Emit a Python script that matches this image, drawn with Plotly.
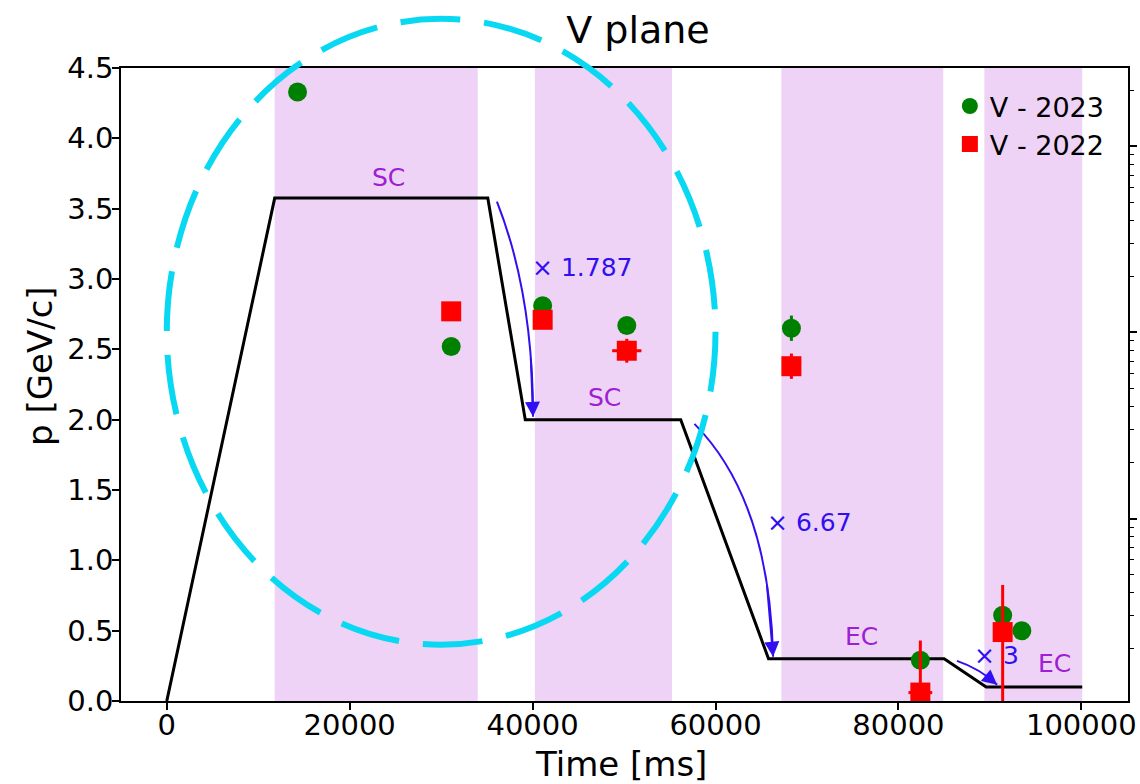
import plotly.graph_objects as go

# ---------------- data ----------------
t_2023 = [14300, 31100, 41100, 50300, 68300, 82400, 91400, 93500]
p_2023 = [4.33, 2.52, 2.81, 2.67, 2.65, 0.29, 0.61, 0.50]
perr_2023 = [0.03, 0.03, 0.03, 0.03, 0.09, 0.05, 0.03, 0.03]

t_2022 = [31100, 41100, 50300, 68300, 82400, 91400]
p_2022 = [2.77, 2.71, 2.49, 2.38, 0.06, 0.49]
perr_up_2022 = [0.03, 0.03, 0.085, 0.09, 0.37, 0.335]
perr_dn_2022 = [0.03, 0.03, 0.085, 0.09, 0.37, 0.55]
terr_2022 = [300, 300, 1600, 300, 1300, 300]

# machine cycle (momentum vs time)
cycle_t = [0, 11800, 35100, 39200, 56200, 65800, 85000, 89600, 100100]
cycle_p = [0, 3.575, 3.575, 2.0, 2.0, 0.3, 0.3, 0.1, 0.1]

# cooling windows
band_start = [11800, 40250, 67200, 89400]
band_end = [34000, 55250, 84900, 100100]

# labels
label_text = ["SC", "SC", "EC", "EC"]
label_t = [24200, 47900, 76000, 97050]
label_p = [3.72, 2.16, 0.46, 0.27]

ratio_text = ["× 1.787", "× 6.67", "× 3"]
ratio_t = [45400, 70300, 90700]
ratio_p = [3.08, 1.27, 0.32]

# curved arrows: start, control, end
arr_start = [(36100, 3.55), (57700, 1.97), (86400, 0.285)]
arr_ctrl = [(40050, 2.90), (65900, 1.43), (88900, 0.23)]
arr_end = [(40050, 2.02), (66300, 0.315), (90800, 0.115)]

x_range = [-5005, 105105]
y_range = [0, 4.5]

BLUE = "#3010f0"
PURPLE = "#9d20d2"
BAND = "#eed3f6"
CYAN = "#08d8f2"
FONT = "DejaVu Sans"

# plot area in pixels (for placing axis titles)
PL, PR, PT, PB = 121, 1128, 68, 701


def paper_x(px):
    return (px - PL) / (PR - PL)


def paper_y(py):
    return (PB - py) / (PB - PT)


fig = go.Figure()

fig.add_trace(go.Scatter(
    x=cycle_t, y=cycle_p, mode="lines", line=dict(color="black", width=3),
    showlegend=False, hoverinfo="skip"))

fig.add_trace(go.Scatter(
    x=t_2023, y=p_2023, mode="markers", name="V - 2023",
    marker=dict(color="green", size=19, symbol="circle"),
    error_y=dict(type="data", array=perr_2023, color="green", thickness=3, width=0)))

fig.add_trace(go.Scatter(
    x=t_2022, y=p_2022, mode="markers", name="V - 2022",
    marker=dict(color="red", size=20, symbol="square"),
    error_y=dict(type="data", symmetric=False, array=perr_up_2022, arrayminus=perr_dn_2022,
                 color="red", thickness=3, width=0),
    error_x=dict(type="data", array=terr_2022, color="red", thickness=3, width=0)))

# invisible trace to anchor the secondary (log) axis
fig.add_trace(go.Scatter(x=[50000], y=[1], yaxis="y2", mode="markers",
                         marker=dict(opacity=0), showlegend=False, hoverinfo="skip"))

shapes = []
for s, e in zip(band_start, band_end):
    shapes.append(dict(type="rect", xref="x", yref="paper", x0=s, x1=e, y0=0, y1=1,
                       fillcolor=BAND, line=dict(width=0), layer="below"))


def bez(p0, c, p1, t):
    return ((1 - t) ** 2 * p0[0] + 2 * (1 - t) * t * c[0] + t ** 2 * p1[0],
            (1 - t) ** 2 * p0[1] + 2 * (1 - t) * t * c[1] + t ** 2 * p1[1])


annotations = []
for s, c, e in zip(arr_start, arr_ctrl, arr_end):
    shapes.append(dict(type="path", xref="x", yref="y",
                       path=f"M {s[0]},{s[1]} Q {c[0]},{c[1]} {e[0]},{e[1]}",
                       line=dict(color=BLUE, width=2)))
    tail = bez(s, c, e, 0.75)
    annotations.append(dict(x=e[0], y=e[1], ax=tail[0], ay=tail[1], xref="x", yref="y",
                            axref="x", ayref="y", showarrow=True, arrowhead=2,
                            arrowsize=1.5, arrowwidth=2, arrowcolor=BLUE, text=""))

# dashed ellipse (in paper coordinates derived from data)
ell_t = [0, 60000]
ell_p = [0.40, 4.85]
px = [(v - x_range[0]) / (x_range[1] - x_range[0]) for v in ell_t]
py = [(v - y_range[0]) / (y_range[1] - y_range[0]) for v in ell_p]
shapes.append(dict(type="circle", xref="paper", yref="paper", x0=px[0], x1=px[1],
                   y0=py[0], y1=py[1], line=dict(color=CYAN, width=6, dash="60px,24px"),
                   layer="above"))

for txt, x, y in zip(label_text, label_t, label_p):
    annotations.append(dict(x=x, y=y, xref="x", yref="y", text=txt, showarrow=False,
                            font=dict(family=FONT, size=25, color=PURPLE)))
for txt, x, y in zip(ratio_text, ratio_t, ratio_p):
    annotations.append(dict(x=x, y=y, xref="x", yref="y", text=txt, showarrow=False,
                            font=dict(family=FONT, size=25, color=BLUE)))

# axis titles
annotations.append(dict(x=paper_x(621), y=paper_y(764), xref="paper", yref="paper",
                        xanchor="center", yanchor="middle",
                        text="Time [ms]", showarrow=False,
                        font=dict(family=FONT, size=34, color="black")))
annotations.append(dict(x=paper_x(40), y=paper_y(366), xref="paper", yref="paper",
                        xanchor="center", yanchor="middle",
                        text="p [GeV/c]", showarrow=False, textangle=-90,
                        font=dict(family=FONT, size=34, color="black")))

fig.update_layout(
    width=1140, height=784,
    margin=dict(l=PL, r=1140 - PR, t=PT, b=784 - PB, autoexpand=False),
    paper_bgcolor="white", plot_bgcolor="white",
    title=dict(text="V plane", x=638 / 1140, xref="container", xanchor="center",
               y=1 - 30 / 784, yref="container", yanchor="middle",
               font=dict(family=FONT, size=38, color="black")),
    xaxis=dict(range=x_range, dtick=20000, tick0=0, tickformat="d",
               showline=True, linecolor="black", linewidth=1.5, mirror=True,
               ticks="outside", ticklen=7, tickwidth=1.5, tickcolor="black",
               showgrid=False, zeroline=False, automargin=False,
               ticklabelstandoff=-10,
               tickfont=dict(family=FONT, size=29, color="black")),
    yaxis=dict(range=y_range, dtick=0.5, tick0=0, tickformat=".1f",
               showline=True, linecolor="black", linewidth=1.5,
               ticks="outside", ticklen=7, tickwidth=1.5, tickcolor="black",
               showgrid=False, zeroline=False, automargin=False,
               ticklabelstandoff=-7,
               tickfont=dict(family=FONT, size=29, color="black")),
    yaxis2=dict(overlaying="y", side="right", type="log", range=[-0.98, 2.42],
                showline=True, linecolor="black", linewidth=1.5,
                ticks="outside", ticklen=7, tickwidth=1.5, tickcolor="black",
                dtick=1, showticklabels=False, showgrid=False, zeroline=False,
                automargin=False,
                minor=dict(ticks="outside", ticklen=4, tickwidth=1.2,
                           tickcolor="black", dtick="D1", showgrid=False)),
    legend=dict(x=0.982, y=0.978, xanchor="right", yanchor="top",
                bgcolor="rgba(0,0,0,0)", borderwidth=0, itemsizing="trace",
                font=dict(family=FONT, size=27, color="black")),
    shapes=shapes,
    annotations=annotations,
)

fig.write_html("out.html")
